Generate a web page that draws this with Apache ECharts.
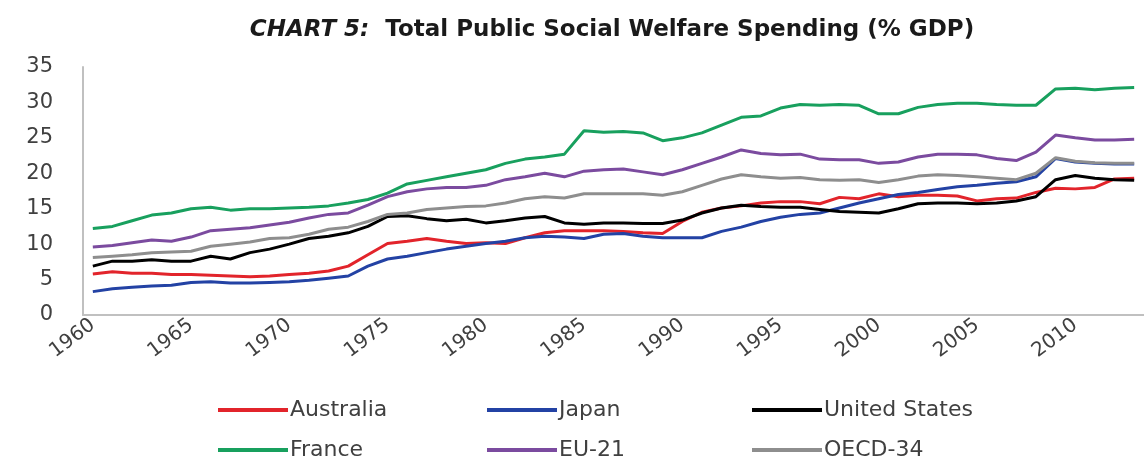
<!DOCTYPE html>
<html>
<head>
<meta charset="utf-8">
<script src="https://cdn.jsdelivr.net/npm/echarts@6/dist/echarts.min.js"></script>
<style>
html, body { margin: 0; padding: 0; background: #fff; }
#chart { width: 1144px; height: 460px; }
</style>
</head>
<body>
<div id="chart"></div>
<script>
// years 1960 - 2013 (the picture is cut at the right edge, around 2012)
var years = [];
for (var y = 1960; y <= 2013; y++) years.push(String(y));

var australia = [5.8, 6.1, 5.9, 5.9, 5.7, 5.7, 5.6, 5.5, 5.4, 5.5,
	5.7, 5.9, 6.2, 6.9, 8.5, 10.1, 10.4, 10.8, 10.4, 10.1,
	10.2, 10.1, 10.9, 11.6, 11.9, 11.9, 11.9, 11.8, 11.6, 11.5,
	13.2, 14.5, 15.1, 15.4, 15.8, 16.0, 16.0, 15.7, 16.6, 16.4,
	17.1, 16.7, 16.9, 16.9, 16.8, 16.1, 16.4, 16.5, 17.3, 17.9,
	17.8, 18.0, 19.2, 19.3];
var japan = [3.3, 3.7, 3.9, 4.1, 4.2, 4.6, 4.7, 4.5, 4.5, 4.6,
	4.7, 4.9, 5.2, 5.5, 6.9, 7.9, 8.3, 8.8, 9.3, 9.7,
	10.1, 10.4, 10.9, 11.1, 11.0, 10.8, 11.4, 11.5, 11.1, 10.9,
	10.9, 10.9, 11.8, 12.4, 13.2, 13.8, 14.2, 14.4, 15.1, 15.8,
	16.4, 17.0, 17.3, 17.7, 18.1, 18.3, 18.6, 18.8, 19.5, 22.1,
	21.6, 21.4, 21.3, 21.3];
var unitedStates = [6.9, 7.6, 7.6, 7.8, 7.6, 7.6, 8.3, 7.9, 8.8, 9.3,
	10.0, 10.8, 11.1, 11.6, 12.5, 13.9, 14.0, 13.6, 13.3, 13.5,
	13.0, 13.3, 13.7, 13.9, 13.0, 12.8, 13.0, 13.0, 12.9, 12.9,
	13.4, 14.4, 15.1, 15.5, 15.3, 15.2, 15.2, 14.9, 14.6, 14.5,
	14.4, 15.0, 15.7, 15.8, 15.8, 15.7, 15.8, 16.1, 16.7, 19.1,
	19.7, 19.3, 19.1, 19.0];
var france = [12.2, 12.5, 13.3, 14.1, 14.4, 15.0, 15.2, 14.8, 15.0, 15.0,
	15.1, 15.2, 15.4, 15.8, 16.3, 17.2, 18.5, 19.0, 19.5, 20.0,
	20.5, 21.4, 22.0, 22.3, 22.7, 26.0, 25.8, 25.9, 25.7, 24.6,
	25.0, 25.7, 26.8, 27.9, 28.1, 29.2, 29.7, 29.6, 29.7, 29.6,
	28.4, 28.4, 29.3, 29.7, 29.9, 29.9, 29.7, 29.6, 29.6, 31.9,
	32.0, 31.8, 32.0, 32.1];
var eu21 = [9.6, 9.8, 10.2, 10.6, 10.4, 11.0, 11.9, 12.1, 12.3, 12.7,
	13.1, 13.7, 14.2, 14.4, 15.5, 16.7, 17.4, 17.8, 18.0, 18.0,
	18.3, 19.1, 19.5, 20.0, 19.5, 20.3, 20.5, 20.6, 20.2, 19.8,
	20.5, 21.4, 22.3, 23.3, 22.8, 22.6, 22.7, 22.0, 21.9, 21.9,
	21.4, 21.6, 22.3, 22.7, 22.7, 22.6, 22.1, 21.8, 23.0, 25.4,
	25.0, 24.7, 24.7, 24.8];
var oecd34 = [8.1, 8.3, 8.5, 8.8, 8.9, 9.0, 9.7, 10.0, 10.3, 10.8,
	10.9, 11.4, 12.1, 12.4, 13.2, 14.2, 14.4, 14.9, 15.1, 15.3,
	15.4, 15.8, 16.4, 16.7, 16.5, 17.1, 17.1, 17.1, 17.1, 16.9,
	17.4, 18.3, 19.2, 19.8, 19.5, 19.3, 19.4, 19.1, 19.0, 19.1,
	18.7, 19.1, 19.6, 19.8, 19.7, 19.5, 19.3, 19.1, 20.0, 22.2,
	21.7, 21.5, 21.4, 21.4];

var fontName = "DejaVu Sans";
var txtColor = "#404040";

function makeLine(name, data, color) {
	return {
		name: name,
		type: "line",
		data: data,
		symbol: "none",
		smooth: false,
		lineStyle: { color: color, width: 3 },
		itemStyle: { color: color },
		emphasis: { disabled: true }
	};
}

// one legend per item, so the two rows line up in columns
function makeLegend(left, top, name) {
	return {
		left: left,
		top: top,
		itemWidth: 70,
		itemHeight: 4,
		icon: "rect",
		data: [name],
		selectedMode: false,
		textStyle: { fontFamily: fontName, fontSize: 22, color: txtColor, padding: [0, 0, 0, -3] }
	};
}

var myChart = echarts.init(document.getElementById("chart"), null, { renderer: "canvas" });
var option = {
	animation: false,
	backgroundColor: "#ffffff",
	title: {
		text: "{i|CHART 5:}  Total Public Social Welfare Spending (% GDP)",
		left: 607,
		top: 14,
		textAlign: "center",
		textStyle: {
			fontFamily: fontName,
			fontSize: 23,
			fontWeight: "bold",
			color: "#1a1a1a",
			rich: {
				i: { fontFamily: fontName, fontSize: 23, fontWeight: "bold", fontStyle: "italic", color: "#1a1a1a" }
			}
		}
	},
	legend: [
		makeLegend(213, 394, "Australia"),
		makeLegend(482, 394, "Japan"),
		makeLegend(747, 394, "United States"),
		makeLegend(213, 434, "France"),
		makeLegend(482, 434, "EU-21"),
		makeLegend(747, 434, "OECD-34")
	],
	grid: { left: 83, top: 67, width: 1096, bottom: 145, containLabel: false },
	xAxis: {
		type: "category",
		data: years,
		boundaryGap: true,
		axisLine: { show: true, lineStyle: { color: "#c0c0c0", width: 2 } },
		axisTick: { show: false },
		axisLabel: {
			interval: 4,
			rotate: 37,
			margin: 8,
			fontFamily: fontName,
			fontSize: 20,
			color: txtColor
		},
		splitLine: { show: false }
	},
	yAxis: {
		type: "value",
		min: 0,
		max: 35,
		interval: 5,
		axisLine: { show: true, lineStyle: { color: "#c0c0c0", width: 2 } },
		axisTick: { show: false },
		axisLabel: { margin: 30, fontFamily: fontName, fontSize: 21, color: txtColor },
		splitLine: { show: false }
	},
	series: [
		makeLine("Australia", australia, "#e2242b"),
		makeLine("Japan", japan, "#2342a4"),
		makeLine("United States", unitedStates, "#000000"),
		makeLine("France", france, "#18a05e"),
		makeLine("EU-21", eu21, "#7b4b9f"),
		makeLine("OECD-34", oecd34, "#8e8e8e")
	]
};
myChart.setOption(option);
</script>
</body>
</html>
